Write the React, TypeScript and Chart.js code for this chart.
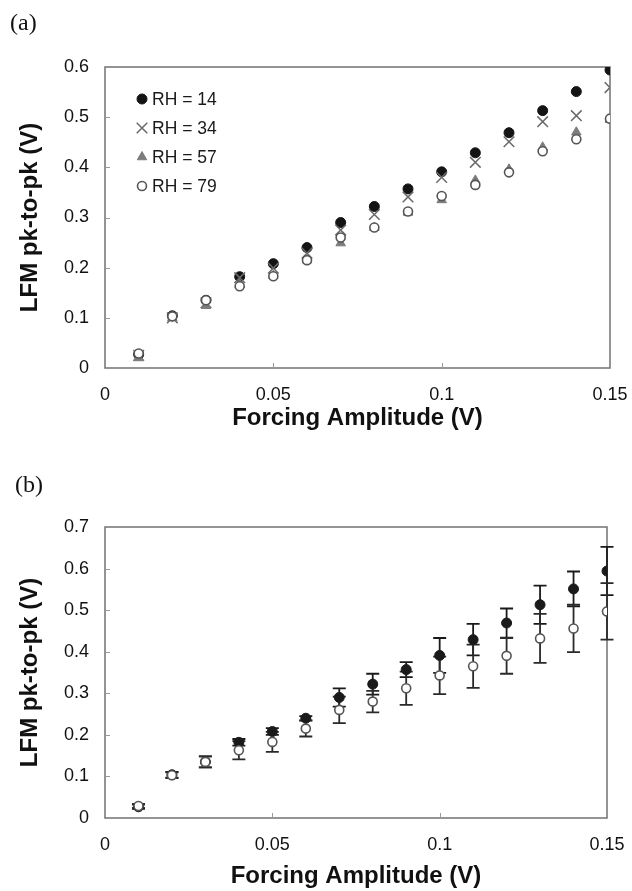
import React, { useEffect, useRef } from 'react';
import { Chart, registerables } from 'chart.js';
import { drawPoint } from 'chart.js/helpers';

Chart.register(...registerables);

// ---------------- data ----------------
const forcing = [0.01, 0.02, 0.03, 0.04, 0.05, 0.06, 0.07, 0.08, 0.09, 0.1, 0.11, 0.12, 0.13, 0.14, 0.15];
const rh14 = [0.027, 0.104, 0.135, 0.182, 0.208, 0.24, 0.29, 0.322, 0.357, 0.391, 0.429, 0.469, 0.513, 0.551, 0.594];
const rh34 = [0.025, 0.1, 0.13, 0.18, 0.199, 0.229, 0.275, 0.306, 0.341, 0.38, 0.41, 0.451, 0.491, 0.503, 0.559];
const rh57 = [0.02, 0.1, 0.124, 0.166, 0.184, 0.215, 0.249, 0.28, 0.31, 0.335, 0.374, 0.396, 0.44, 0.47, 0.495];
const rh79 = [0.029, 0.103, 0.135, 0.163, 0.183, 0.215, 0.26, 0.28, 0.312, 0.343, 0.365, 0.39, 0.432, 0.456, 0.497];
const err14 = [0.005, 0.007, 0.013, 0.008, 0.008, 0.005, 0.022, 0.025, 0.018, 0.042, 0.038, 0.035, 0.046, 0.042, 0.058];
const err79 = [0.005, 0.007, 0.013, 0.022, 0.024, 0.019, 0.032, 0.026, 0.04, 0.045, 0.052, 0.043, 0.059, 0.057, 0.068];

const seriesLabels = ['RH = 14', 'RH = 34', 'RH = 57', 'RH = 79'];
const xTicks = [0, 0.05, 0.1, 0.15];
const xTickLabels = ['0', '0.05', '0.1', '0.15'];
const yTicksA = [0, 0.1, 0.2, 0.3, 0.4, 0.5, 0.6];
const yTickLabelsA = ['0', '0.1', '0.2', '0.3', '0.4', '0.5', '0.6'];
const yTicksB = [0, 0.1, 0.2, 0.3, 0.4, 0.5, 0.6, 0.7];
const yTickLabelsB = ['0', '0.1', '0.2', '0.3', '0.4', '0.5', '0.6', '0.7'];
const xTitle = 'Forcing Amplitude (V)';
const yTitle = 'LFM pk-to-pk (V)';

// ---------------- helpers ----------------
const FONT = "'Liberation Sans', Arial, sans-serif";
const SERIF = "'Liberation Serif', 'Times New Roman', serif";

const pts = (ys: number[]) => forcing.map((x, i) => ({ x, y: ys[i] }));

const framePlugin = {
  id: 'frame',
  beforeDatasetsDraw(chart: any) {
    const { ctx, chartArea: a, scales } = chart;
    ctx.save();
    ctx.strokeStyle = '#7a7a7a';
    ctx.lineWidth = 1.6;
    ctx.strokeRect(a.left, a.top, a.right - a.left, a.bottom - a.top);
    ctx.strokeStyle = '#9a9a9a';
    ctx.lineWidth = 1;
    ctx.beginPath();
    const yt = scales.y.ticks;
    yt.forEach((t: any, i: number) => {
      if (i === 0 || i === yt.length - 1) return;
      const y = Math.round(scales.y.getPixelForValue(t.value)) + 0.5;
      ctx.moveTo(a.left, y);
      ctx.lineTo(a.left + 5, y);
    });
    const xt = scales.x.ticks;
    xt.forEach((t: any, i: number) => {
      if (i === 0 || i === xt.length - 1) return;
      const x = Math.round(scales.x.getPixelForValue(t.value)) + 0.5;
      ctx.moveTo(x, a.bottom);
      ctx.lineTo(x, a.bottom - 5);
    });
    ctx.stroke();
    ctx.restore();
  },
};

const errorBarPlugin = {
  id: 'errorBars',
  beforeDatasetsDraw(chart: any) {
    const { ctx, scales } = chart;
    const xs = scales.x;
    const ys = scales.y;
    ctx.save();
    chart.data.datasets.forEach((ds: any) => {
      if (!ds.errors) return;
      ctx.strokeStyle = ds.errorColor || '#222';
      ctx.lineWidth = 1.8;
      ds.data.forEach((p: any, i: number) => {
        const e = ds.errors[i];
        const px = xs.getPixelForValue(p.x);
        const yt = ys.getPixelForValue(p.y + e);
        const yb = ys.getPixelForValue(p.y - e);
        ctx.beginPath();
        ctx.moveTo(px, yt);
        ctx.lineTo(px, yb);
        ctx.moveTo(px - 6.5, yt);
        ctx.lineTo(px + 6.5, yt);
        ctx.moveTo(px - 6.5, yb);
        ctx.lineTo(px + 6.5, yb);
        ctx.stroke();
      });
    });
    ctx.restore();
  },
};

const insideLegendPlugin = {
  id: 'insideLegend',
  afterDatasetsDraw(chart: any) {
    if (!chart.options.plugins.insideLegendOn) return;
    const { ctx, chartArea: a } = chart;
    ctx.save();
    ctx.font = `17.5px ${FONT}`;
    ctx.textBaseline = 'middle';
    ctx.textAlign = 'left';
    chart.data.datasets.forEach((ds: any, i: number) => {
      const cx = a.left + 37;
      const cy = a.top + 32 + i * 29;
      ctx.fillStyle = ds.pointBackgroundColor;
      ctx.strokeStyle = ds.pointBorderColor;
      ctx.lineWidth = ds.pointBorderWidth;
      drawPoint(ctx, { pointStyle: ds.pointStyle, radius: ds.pointRadius, borderWidth: ds.pointBorderWidth, rotation: 0 }, cx, cy);
      ctx.fillStyle = '#1a1a1a';
      ctx.fillText(ds.label, cx + 10, cy + 1);
    });
    ctx.restore();
  },
};

function makeScales(yTicks: number[], yLabels: string[], yMax: number, xAxisHeight: number, xTickPad: number, xTitlePad: number) {
  return {
    x: {
      type: 'linear',
      min: 0,
      max: 0.15,
      afterBuildTicks: (s: any) => {
        s.ticks = xTicks.map((v) => ({ value: v }));
      },
      afterFit: (s: any) => {
        s.height = xAxisHeight;
        s.paddingLeft = 0;
        s.paddingRight = 0;
      },
      ticks: {
        callback: (_v: any, i: number) => xTickLabels[i],
        font: { family: FONT, size: 18 },
        color: '#111',
        padding: xTickPad,
        maxRotation: 0,
        autoSkip: false,
      },
      grid: { display: false, drawTicks: false },
      border: { display: false },
      title: {
        display: true,
        text: xTitle,
        color: '#111',
        font: { family: FONT, size: 24, weight: 'bold' },
        padding: { top: 0, bottom: xTitlePad },
      },
    },
    y: {
      type: 'linear',
      min: 0,
      max: yMax,
      afterBuildTicks: (s: any) => {
        s.ticks = yTicks.map((v) => ({ value: v }));
      },
      afterFit: (s: any) => {
        s.width = 105;
        s.paddingTop = 0;
        s.paddingBottom = 0;
      },
      ticks: {
        callback: (_v: any, i: number) => yLabels[i],
        font: { family: FONT, size: 18 },
        color: '#111',
        padding: 16,
        autoSkip: false,
      },
      grid: { display: false, drawTicks: false },
      border: { display: false },
      title: {
        display: true,
        text: yTitle,
        color: '#111',
        font: { family: FONT, size: 24, weight: 'bold' },
        padding: { top: 16, bottom: 0 },
      },
    },
  };
}

function configA(): any {
  return {
    type: 'scatter',
    data: {
      datasets: [
        { label: seriesLabels[0], data: pts(rh14), order: 4, pointStyle: 'circle', pointRadius: 5, pointBorderWidth: 1, pointBackgroundColor: '#141414', pointBorderColor: '#141414' },
        { label: seriesLabels[1], data: pts(rh34), order: 3, pointStyle: 'crossRot', pointRadius: 7.5, pointBorderWidth: 1.5, pointBackgroundColor: '#6a6a6a', pointBorderColor: '#6a6a6a' },
        { label: seriesLabels[2], data: pts(rh57), order: 2, pointStyle: 'triangle', pointRadius: 5.5, pointBorderWidth: 1, pointBackgroundColor: '#7c7c7c', pointBorderColor: '#7c7c7c' },
        { label: seriesLabels[3], data: pts(rh79), order: 1, pointStyle: 'circle', pointRadius: 4.5, pointBorderWidth: 1.6, pointBackgroundColor: '#ffffff', pointBorderColor: '#555555' },
      ],
    },
    options: {
      responsive: false,
      animation: false,
      devicePixelRatio: 1,
      layout: { padding: { left: 0, top: 67, right: 22, bottom: 0 } },
      scales: makeScales(yTicksA, yTickLabelsA, 0.6, 72, 16, 7),
      plugins: { legend: { display: false }, tooltip: { enabled: false }, insideLegendOn: true },
    },
    plugins: [framePlugin, insideLegendPlugin],
  };
}

function configB(): any {
  return {
    type: 'scatter',
    data: {
      datasets: [
        { label: seriesLabels[0], data: pts(rh14), errors: err14, errorColor: '#1a1a1a', order: 2, pointStyle: 'circle', pointRadius: 5, pointBorderWidth: 1, pointBackgroundColor: '#1a1a1a', pointBorderColor: '#1a1a1a' },
        { label: seriesLabels[3], data: pts(rh79), errors: err79, errorColor: '#2a2a2a', order: 1, pointStyle: 'circle', pointRadius: 4.5, pointBorderWidth: 1.6, pointBackgroundColor: '#ffffff', pointBorderColor: '#555555' },
      ],
    },
    options: {
      responsive: false,
      animation: false,
      devicePixelRatio: 1,
      layout: { padding: { left: 0, top: 87, right: 25, bottom: 0 } },
      scales: makeScales(yTicksB, yTickLabelsB, 0.7, 73, 16, 0),
      plugins: { legend: { display: false }, tooltip: { enabled: false } },
    },
    plugins: [framePlugin, errorBarPlugin],
  };
}

function ChartPanel({ top, height, make }: { top: number; height: number; make: () => any }) {
  const ref = useRef<HTMLCanvasElement | null>(null);
  useEffect(() => {
    if (!ref.current) return;
    const chart = new Chart(ref.current, make());
    return () => chart.destroy();
  }, []);
  return (
    <canvas
      ref={ref}
      width={632}
      height={height}
      style={{ position: 'absolute', left: 0, top, width: 632, height }}
    />
  );
}

export default function App() {
  const lbl: React.CSSProperties = { position: 'absolute', fontFamily: SERIF, fontSize: 24, lineHeight: 1, color: '#111' };
  return (
    <div style={{ position: 'absolute', left: 0, top: 0, width: 632, height: 891, background: '#fff', overflow: 'hidden' }}>
      <ChartPanel top={0} height={440} make={configA} />
      <ChartPanel top={440} height={451} make={configB} />
      <div style={{ ...lbl, left: 10, top: 10 }}>(a)</div>
      <div style={{ ...lbl, left: 15, top: 472 }}>(b)</div>
    </div>
  );
}
